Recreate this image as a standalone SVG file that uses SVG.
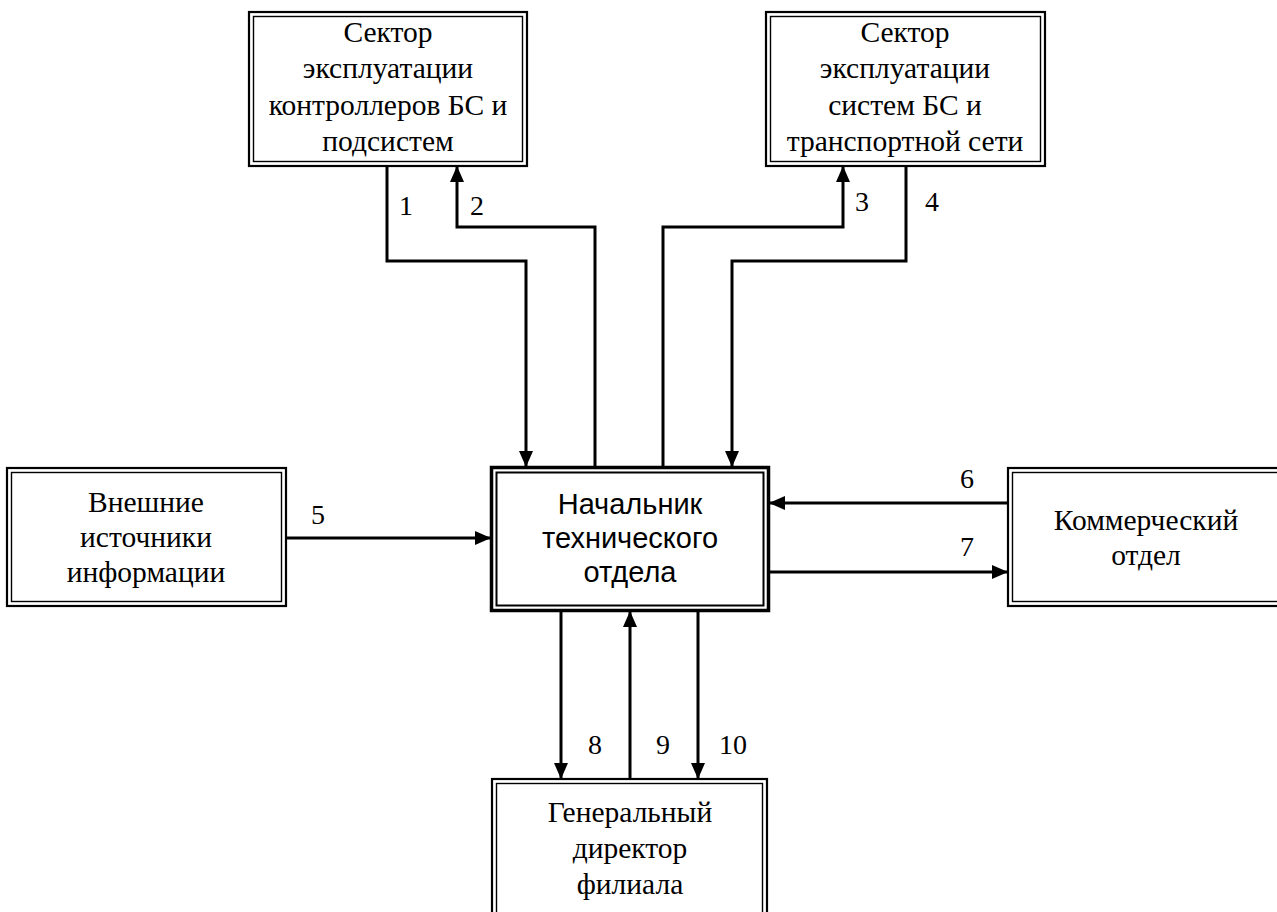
<svg xmlns="http://www.w3.org/2000/svg" width="1277" height="912" viewBox="0 0 1277 912">
<style>
.o{fill:#fff;stroke:#000;stroke-width:2.2}
.i{fill:none;stroke:#000;stroke-width:1.4}
.co{fill:#fff;stroke:#000;stroke-width:3.5}
.ci{fill:none;stroke:#000;stroke-width:2}
.t{font-family:"Liberation Serif","Times New Roman",serif;font-size:29.5px;fill:#000;text-anchor:middle}
.s{font-family:"Liberation Sans",Arial,sans-serif;font-size:29px;fill:#000;text-anchor:middle}
.c{fill:none;stroke:#000;stroke-width:3}
.l{font-family:"Liberation Serif","Times New Roman",serif;font-size:28px;fill:#000;text-anchor:middle}
</style>
<defs>
<marker id="a" markerUnits="userSpaceOnUse" markerWidth="18" markerHeight="14" refX="16" refY="7" orient="auto"><path d="M0,0 L16,7 L0,14 z" fill="#000"/></marker>
</defs>
<rect width="1277" height="912" fill="#fff"/>
<g id="n1">
<rect class="o" x="249" y="12" width="278" height="154"/>
<rect class="i" x="253.5" y="16.5" width="269" height="145"/>
<text class="t"><tspan x="388" y="42">Сектор</tspan><tspan x="388" y="78">эксплуатации</tspan><tspan x="388" y="115">контроллеров БС и</tspan><tspan x="388" y="151">подсистем</tspan></text>
</g>
<g id="n2">
<rect class="o" x="766" y="12" width="279" height="154"/>
<rect class="i" x="770.5" y="16.5" width="270" height="145"/>
<text class="t"><tspan x="905" y="42">Сектор</tspan><tspan x="905" y="78">эксплуатации</tspan><tspan x="905" y="115">систем БС и</tspan><tspan x="905" y="151">транспортной сети</tspan></text>
</g>
<g id="n3">
<rect class="co" x="491.5" y="467.5" width="277" height="143"/>
<rect class="ci" x="496.5" y="472.5" width="267" height="133"/>
<text class="s"><tspan x="630" y="514">Начальник</tspan><tspan x="630" y="548">технического</tspan><tspan x="630" y="582">отдела</tspan></text>
</g>
<g id="n4">
<rect class="o" x="7" y="468" width="279" height="138"/>
<rect class="i" x="11.5" y="472.5" width="270" height="129"/>
<text class="t"><tspan x="146" y="512">Внешние</tspan><tspan x="146" y="547">источники</tspan><tspan x="146" y="582">информации</tspan></text>
</g>
<g id="n5">
<rect class="o" x="1008" y="468" width="280" height="138"/>
<rect class="i" x="1012.5" y="472.5" width="271" height="129"/>
<text class="t"><tspan x="1146" y="530">Коммерческий</tspan><tspan x="1146" y="565">отдел</tspan></text>
</g>
<g id="n6">
<rect class="o" x="492" y="779" width="275" height="145"/>
<rect class="i" x="496.5" y="783.5" width="266" height="136"/>
<text class="t"><tspan x="630" y="822">Генеральный</tspan><tspan x="630" y="858">директор</tspan><tspan x="630" y="894">филиала</tspan></text>
</g>
<g id="connectors">
<path class="c" d="M387,166 V261 H526 V467" marker-end="url(#a)"/>
<path class="c" d="M595,467 V227 H457 V166" marker-end="url(#a)"/>
<path class="c" d="M663,467 V227 H843 V166" marker-end="url(#a)"/>
<path class="c" d="M906,166 V261 H732 V467" marker-end="url(#a)"/>
<path class="c" d="M286,538 H491" marker-end="url(#a)"/>
<path class="c" d="M1008,503 H769" marker-end="url(#a)"/>
<path class="c" d="M769,572 H1008" marker-end="url(#a)"/>
<path class="c" d="M561,611 V779" marker-end="url(#a)"/>
<path class="c" d="M630,779 V611" marker-end="url(#a)"/>
<path class="c" d="M698,611 V779" marker-end="url(#a)"/>
<text class="l" x="406" y="215">1</text>
<text class="l" x="477" y="215">2</text>
<text class="l" x="862" y="211">3</text>
<text class="l" x="932" y="211">4</text>
<text class="l" x="318" y="524">5</text>
<text class="l" x="967" y="488">6</text>
<text class="l" x="967" y="556">7</text>
<text class="l" x="595" y="754">8</text>
<text class="l" x="663" y="754">9</text>
<text class="l" x="733" y="754">10</text>
</g>
</svg>
